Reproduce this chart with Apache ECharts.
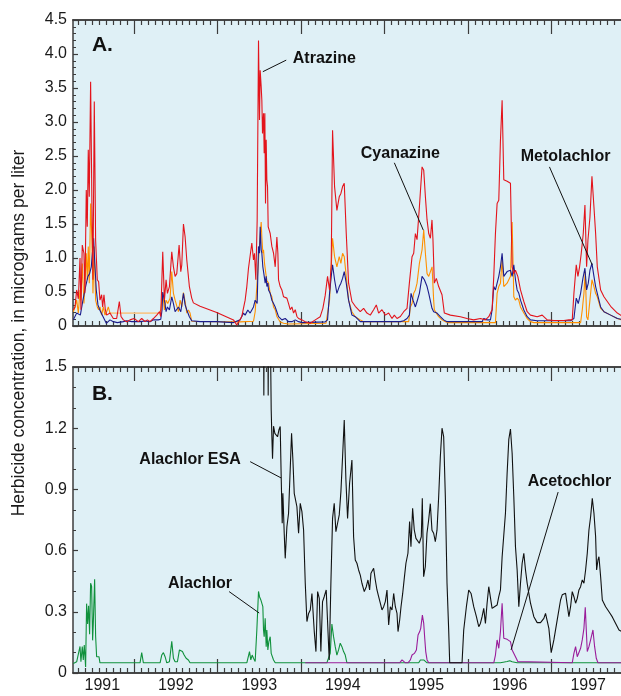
<!DOCTYPE html>
<html><head><meta charset="utf-8">
<script src="https://cdn.jsdelivr.net/npm/echarts@6/dist/echarts.min.js"></script>
<style>html,body{margin:0;padding:0;background:#fff}#c{width:621px;height:696px}</style>
</head><body><div id="c"></div>
<script>
// ---------- DATA (decimal year, micrograms per liter) ----------
const xRange = [1991.269, 1997.833];
const yearTicks = [1992, 1993, 1994, 1995, 1996, 1997];
const yearLabelPos = [1991.62, 1992.5, 1993.5, 1994.5, 1995.5, 1996.5, 1997.44];
const yTicksA = [0, 0.5, 1.0, 1.5, 2.0, 2.5, 3.0, 3.5, 4.0, 4.5];
const yTicksB = [0, 0.3, 0.6, 0.9, 1.2, 1.5];

const atrazine = [
[1991.273,0.235],[1991.293,0.28],[1991.313,0.53],[1991.333,0.4],[1991.353,1.0],[1991.364,0.24],[1991.380,1.19],[1991.400,1.07],[1991.412,0.48],[1991.428,2.0],[1991.440,1.46],[1991.452,2.59],[1991.464,1.9],[1991.480,3.59],[1991.496,1.75],[1991.508,0.68],[1991.524,3.3],[1991.540,1.26],[1991.560,0.68],[1991.576,0.65],[1991.592,0.38],[1991.612,0.46],[1991.624,0.28],[1991.640,0.46],[1991.656,0.24],[1991.672,0.16],[1991.712,0.19],[1991.752,0.11],[1991.792,0.11],[1991.824,0.36],[1991.844,0.14],[1991.872,0.09],[1991.912,0.064],[1991.952,0.09],[1992.000,0.11],[1992.052,0.064],[1992.092,0.11],[1992.132,0.064],[1992.160,0.09],[1992.192,0.064],[1992.232,0.11],[1992.272,0.16],[1992.304,0.21],[1992.320,0.14],[1992.344,1.09],[1992.364,0.38],[1992.384,0.68],[1992.400,0.48],[1992.424,0.58],[1992.452,1.09],[1992.472,0.87],[1992.492,0.73],[1992.512,0.77],[1992.540,1.19],[1992.560,0.80],[1992.572,0.90],[1992.592,1.50],[1992.612,1.31],[1992.632,0.97],[1992.663,0.58],[1992.691,0.41],[1992.711,0.34],[1992.791,0.29],[1992.991,0.20],[1993.191,0.09],[1993.231,0.015],[1993.291,0.14],[1993.331,0.38],[1993.351,0.58],[1993.371,0.85],[1993.391,0.87],[1993.411,1.22],[1993.431,0.97],[1993.443,1.07],[1993.459,0.68],[1993.475,1.56],[1993.491,4.2],[1993.503,3.03],[1993.511,3.76],[1993.523,3.52],[1993.531,3.32],[1993.539,2.83],[1993.551,3.13],[1993.559,2.54],[1993.567,3.13],[1993.575,1.8],[1993.583,2.74],[1993.591,2.15],[1993.599,2.05],[1993.607,1.46],[1993.619,1.41],[1993.631,1.36],[1993.651,1.17],[1993.671,1.07],[1993.691,0.87],[1993.711,1.31],[1993.723,1.07],[1993.731,0.68],[1993.751,0.58],[1993.771,0.53],[1993.791,0.43],[1993.811,0.43],[1993.831,0.41],[1993.851,0.33],[1993.871,0.24],[1993.891,0.28],[1993.911,0.19],[1993.931,0.24],[1993.951,0.14],[1993.971,0.11],[1994.011,0.09],[1994.051,0.064],[1994.111,0.04],[1994.171,0.09],[1994.230,0.137],[1994.262,0.26],[1994.290,0.45],[1994.318,0.73],[1994.342,0.53],[1994.362,0.9],[1994.378,2.88],[1994.402,2.05],[1994.430,1.7],[1994.458,1.9],[1994.478,1.95],[1994.498,2.05],[1994.518,2.1],[1994.542,1.36],[1994.570,0.63],[1994.610,0.36],[1994.650,0.29],[1994.710,0.21],[1994.750,0.26],[1994.790,0.19],[1994.830,0.16],[1994.870,0.24],[1994.902,0.31],[1994.930,0.19],[1994.970,0.24],[1995.010,0.16],[1995.050,0.19],[1995.090,0.11],[1995.118,0.16],[1995.150,0.11],[1995.190,0.14],[1995.230,0.21],[1995.270,0.26],[1995.298,0.63],[1995.330,1.02],[1995.350,1.07],[1995.370,1.36],[1995.390,1.27],[1995.418,1.75],[1995.450,2.34],[1995.470,2.29],[1995.490,1.9],[1995.510,1.56],[1995.530,1.36],[1995.550,1.29],[1995.569,1.56],[1995.581,1.26],[1995.597,0.63],[1995.621,0.70],[1995.649,0.58],[1995.689,0.46],[1995.717,0.19],[1995.789,0.16],[1995.909,0.137],[1995.989,0.11],[1996.069,0.09],[1996.149,0.11],[1996.209,0.09],[1996.249,0.137],[1996.289,0.24],[1996.309,0.73],[1996.329,1.36],[1996.349,1.8],[1996.369,1.85],[1996.389,2.73],[1996.409,3.32],[1996.429,2.15],[1996.469,2.13],[1996.509,2.1],[1996.529,0.87],[1996.549,0.77],[1996.569,0.82],[1996.597,0.73],[1996.629,0.53],[1996.669,0.36],[1996.709,0.21],[1996.749,0.16],[1996.829,0.137],[1996.889,0.16],[1996.949,0.09],[1997.029,0.08],[1997.149,0.08],[1997.209,0.09],[1997.249,0.09],[1997.269,0.48],[1997.297,0.9],[1997.317,0.73],[1997.337,0.87],[1997.357,1.07],[1997.381,1.36],[1997.401,1.78],[1997.421,0.87],[1997.437,1.26],[1997.461,1.60],[1997.485,2.2],[1997.509,1.75],[1997.529,1.36],[1997.549,0.87],[1997.589,0.53],[1997.629,0.43],[1997.709,0.29],[1997.789,0.19],[1997.841,0.15]
];

const cyanazine = [
[1991.273,0.21],[1991.293,0.28],[1991.313,0.38],[1991.333,0.19],[1991.353,0.53],[1991.364,0.38],[1991.380,0.92],[1991.400,0.33],[1991.412,0.63],[1991.428,1.07],[1991.440,0.68],[1991.452,1.17],[1991.464,0.63],[1991.480,1.8],[1991.496,1.26],[1991.508,0.48],[1991.524,1.17],[1991.540,0.38],[1991.560,0.28],[1991.576,0.24],[1991.592,0.28],[1991.612,0.16],[1991.632,0.28],[1991.652,0.16],[1991.672,0.21],[1991.692,0.28],[1991.712,0.19],[1992.0,null],
[1992.304,0.19],[1992.320,0.235],[1992.344,0.48],[1992.364,0.235],[1992.384,0.38],[1992.404,0.33],[1992.432,0.41],[1992.452,0.80],[1992.472,0.48],[1992.492,0.38],[1992.512,0.36],[1992.532,0.21],[1992.552,0.38],[1992.572,0.28],[1992.592,0.49],[1992.612,0.36],[1992.632,0.19],[1992.652,0.235],[1992.671,0.19],[1992.691,0.07],[1992.991,0.064],[1993.271,0.06],[1993.431,0.07],[1993.451,0.21],[1993.471,0.58],[1993.491,0.97],[1993.523,1.53],[1993.531,1.31],[1993.543,1.07],[1993.551,1.12],[1993.563,0.92],[1993.579,0.77],[1993.591,0.67],[1993.611,0.63],[1993.631,0.48],[1993.651,0.43],[1993.671,0.28],[1993.691,0.24],[1993.711,0.14],[1993.751,0.06],[1993.791,0.04],[1993.851,0.03],[1994.300,0.04],[1994.318,0.06],[1994.342,0.38],[1994.362,0.87],[1994.378,1.29],[1994.402,1.02],[1994.430,0.87],[1994.458,1.02],[1994.478,0.92],[1994.498,1.07],[1994.518,1.02],[1994.542,0.73],[1994.570,0.38],[1994.610,0.21],[1994.650,0.137],[1994.710,0.09],[1994.750,0.064],[1995.290,0.064],[1995.310,0.28],[1995.330,0.33],[1995.350,0.48],[1995.370,0.53],[1995.390,0.63],[1995.418,0.92],[1995.450,1.12],[1995.470,1.41],[1995.490,1.07],[1995.510,0.77],[1995.530,0.73],[1995.550,0.73],[1995.570,0.87],[1995.589,0.38],[1995.597,0.24],[1995.621,0.19],[1995.649,0.137],[1995.689,0.09],[1995.729,0.064],[1995.769,0.05],[1996.329,0.05],[1996.349,0.48],[1996.369,0.58],[1996.389,0.63],[1996.409,0.97],[1996.429,0.58],[1996.469,0.63],[1996.509,0.73],[1996.529,1.53],[1996.549,0.43],[1996.569,0.38],[1996.589,0.41],[1996.609,0.38],[1996.629,0.28],[1996.669,0.19],[1996.709,0.11],[1996.749,0.064],[1996.789,0.05],[1997.349,0.05],[1997.369,0.235],[1997.389,0.48],[1997.405,0.80],[1997.421,0.137],[1997.437,0.09],[1997.461,0.38],[1997.485,0.68],[1997.509,0.58],[1997.529,0.48],[1997.549,0.43],[1997.589,0.26],[1997.629,0.21],[1997.709,0.16],[1997.789,0.11],[1997.841,0.09]
];
const cyanazineGap = [[1991.712,0.19],[1992.304,0.19]];

const metolachlor = [
[1991.273,0.09],[1991.289,0.11],[1991.313,0.19],[1991.329,0.19],[1991.357,0.16],[1991.388,0.38],[1991.420,0.58],[1991.448,0.73],[1991.468,0.77],[1991.488,0.87],[1991.516,1.29],[1991.528,0.97],[1991.548,0.53],[1991.568,0.31],[1991.588,0.24],[1991.628,0.14],[1991.668,0.04],[1991.712,0.09],[1991.752,0.064],[1991.800,0.05],[1991.872,0.064],[1991.912,0.078],[1991.972,0.064],[1992.072,0.064],[1992.132,0.073],[1992.192,0.064],[1992.232,0.09],[1992.290,0.09],[1992.320,0.098],[1992.336,0.24],[1992.344,0.5],[1992.364,0.38],[1992.384,0.21],[1992.400,0.28],[1992.424,0.235],[1992.452,0.43],[1992.472,0.33],[1992.492,0.21],[1992.512,0.19],[1992.532,0.28],[1992.560,0.21],[1992.572,0.235],[1992.592,0.48],[1992.612,0.31],[1992.632,0.235],[1992.663,0.137],[1992.691,0.078],[1992.791,0.064],[1992.991,0.064],[1993.191,0.05],[1993.271,0.09],[1993.311,0.19],[1993.331,0.16],[1993.363,0.235],[1993.391,0.19],[1993.411,0.235],[1993.431,0.28],[1993.451,0.38],[1993.475,0.33],[1993.491,1.17],[1993.503,1.07],[1993.511,1.46],[1993.523,1.12],[1993.531,1.07],[1993.543,0.87],[1993.555,0.77],[1993.571,0.63],[1993.583,0.73],[1993.591,0.58],[1993.603,0.63],[1993.611,0.53],[1993.631,0.48],[1993.651,0.38],[1993.671,0.33],[1993.691,0.28],[1993.731,0.137],[1993.771,0.09],[1993.811,0.11],[1993.851,0.064],[1993.891,0.064],[1993.931,0.09],[1993.971,0.064],[1994.011,0.05],[1994.290,0.06],[1994.318,0.09],[1994.342,0.48],[1994.362,0.73],[1994.378,0.9],[1994.402,0.68],[1994.430,0.48],[1994.458,0.58],[1994.478,0.63],[1994.498,0.70],[1994.518,0.80],[1994.542,0.63],[1994.570,0.38],[1994.610,0.16],[1994.650,0.137],[1994.710,0.064],[1995.190,0.064],[1995.230,0.078],[1995.270,0.11],[1995.298,0.16],[1995.318,0.48],[1995.342,0.38],[1995.370,0.28],[1995.390,0.36],[1995.418,0.48],[1995.450,0.73],[1995.478,0.68],[1995.510,0.58],[1995.530,0.48],[1995.549,0.46],[1995.569,0.26],[1995.589,0.21],[1995.609,0.235],[1995.629,0.19],[1995.649,0.21],[1995.669,0.137],[1995.709,0.09],[1995.749,0.064],[1996.169,0.064],[1996.189,0.11],[1996.229,0.09],[1996.269,0.09],[1996.289,0.235],[1996.309,0.58],[1996.329,0.53],[1996.349,0.63],[1996.369,0.73],[1996.389,0.87],[1996.409,1.07],[1996.429,0.73],[1996.469,0.80],[1996.509,0.82],[1996.529,0.73],[1996.549,0.9],[1996.569,0.68],[1996.589,0.53],[1996.609,0.48],[1996.629,0.38],[1996.669,0.235],[1996.709,0.137],[1996.749,0.09],[1996.829,0.078],[1997.229,0.078],[1997.269,0.11],[1997.297,0.41],[1997.321,0.33],[1997.349,0.48],[1997.377,0.70],[1997.401,0.85],[1997.421,0.53],[1997.441,0.63],[1997.461,0.82],[1997.485,0.92],[1997.509,0.73],[1997.529,0.58],[1997.549,0.48],[1997.589,0.28],[1997.629,0.21],[1997.709,0.16],[1997.789,0.11],[1997.841,0.098]
];

const alachlorEsa = [
[1993.549,1.9],[1993.555,1.36],[1993.561,1.9],[1993.567,1.9],[1993.571,1.6],[1993.600,1.9],[1993.607,1.36],[1993.613,1.9],[1993.627,1.9],[1993.635,1.6],[1993.643,1.29],[1993.651,1.16],[1993.659,1.05],[1993.671,1.21],[1993.687,1.175],[1993.703,1.183],[1993.719,1.158],[1993.735,1.191],[1993.751,1.208],[1993.763,0.954],[1993.775,0.734],[1993.783,0.881],[1993.799,0.685],[1993.811,0.562],[1993.831,0.717],[1993.851,0.783],[1993.871,0.775],[1993.887,1.175],[1993.903,1.044],[1993.919,0.881],[1993.931,0.889],[1993.951,0.815],[1993.971,0.685],[1993.991,0.832],[1994.011,0.791],[1994.031,0.701],[1994.051,0.44],[1994.071,0.252],[1994.091,0.292],[1994.111,0.309],[1994.131,0.39],[1994.143,0.309],[1994.159,0.203],[1994.179,0.105],[1994.199,0.399],[1994.219,0.366],[1994.238,0.105],[1994.258,0.35],[1994.278,0.374],[1994.302,0.407],[1994.322,0.407],[1994.338,0.064],[1994.358,0.44],[1994.378,0.758],[1994.398,0.832],[1994.418,0.693],[1994.438,0.734],[1994.458,0.775],[1994.478,0.889],[1994.498,1.06],[1994.518,1.24],[1994.538,0.946],[1994.558,0.758],[1994.582,0.93],[1994.610,1.044],[1994.630,0.668],[1994.650,0.554],[1994.670,0.538],[1994.690,0.505],[1994.710,0.48],[1994.730,0.44],[1994.758,0.399],[1994.782,0.423],[1994.802,0.456],[1994.822,0.407],[1994.838,0.489],[1994.858,0.497],[1994.870,0.513],[1994.890,0.456],[1994.910,0.407],[1994.930,0.374],[1994.950,0.342],[1994.970,0.309],[1994.990,0.325],[1995.010,0.35],[1995.030,0.407],[1995.050,0.235],[1995.070,0.325],[1995.090,0.309],[1995.110,0.39],[1995.130,0.325],[1995.150,0.292],[1995.162,0.203],[1995.182,0.26],[1995.198,0.325],[1995.218,0.39],[1995.237,0.464],[1995.257,0.538],[1995.281,0.587],[1995.301,0.742],[1995.317,0.619],[1995.337,0.807],[1995.357,0.701],[1995.377,0.66],[1995.397,0.652],[1995.417,0.636],[1995.441,0.668],[1995.453,0.856],[1995.469,0.472],[1995.489,0.521],[1995.509,0.685],[1995.529,0.75],[1995.549,0.83],[1995.569,0.70],[1995.589,0.685],[1995.609,0.644],[1995.629,0.70],[1995.649,0.864],[1995.669,1.06],[1995.689,1.2],[1995.709,1.158],[1995.729,0.864],[1995.749,0.44],[1995.769,0.211],[1995.781,0.05],[1995.929,0.05],[1995.949,0.211],[1995.981,0.325],[1996.009,0.407],[1996.037,0.39],[1996.069,0.325],[1996.101,0.276],[1996.129,0.227],[1996.149,0.243],[1996.169,0.276],[1996.189,0.317],[1996.209,0.243],[1996.229,0.342],[1996.249,0.423],[1996.269,0.423],[1996.289,0.317],[1996.317,0.325],[1996.349,0.333],[1996.369,0.374],[1996.389,0.407],[1996.409,0.569],[1996.429,0.578],[1996.449,0.783],[1996.469,0.979],[1996.489,1.145],[1996.509,1.196],[1996.529,1.077],[1996.549,0.864],[1996.569,0.619],[1996.589,0.505],[1996.609,0.325],[1996.629,0.44],[1996.649,0.538],[1996.669,0.587],[1996.689,0.505],[1996.709,0.44],[1996.729,0.39],[1996.749,0.342],[1996.769,0.309],[1996.789,0.276],[1996.829,0.247],[1996.869,0.247],[1996.909,0.268],[1996.929,0.292],[1996.949,0.296],[1996.969,0.219],[1996.997,0.10],[1997.029,0.162],[1997.069,0.26],[1997.109,0.358],[1997.129,0.383],[1997.169,0.391],[1997.189,0.333],[1997.209,0.276],[1997.229,0.325],[1997.249,0.399],[1997.269,0.374],[1997.289,0.342],[1997.309,0.366],[1997.329,0.407],[1997.349,0.423],[1997.369,0.456],[1997.389,0.44],[1997.409,0.505],[1997.429,0.587],[1997.449,0.701],[1997.469,0.766],[1997.489,0.856],[1997.509,0.783],[1997.529,0.668],[1997.541,0.505],[1997.557,0.554],[1997.569,0.57],[1997.589,0.472],[1997.609,0.358],[1997.649,0.325],[1997.689,0.30],[1997.729,0.275],[1997.769,0.243],[1997.809,0.211],[1997.841,0.203]
];

const alachlor = [
[1991.273,0.047],[1991.313,0.055],[1991.333,0.047],[1991.353,0.13],[1991.364,0.055],[1991.380,0.13],[1991.392,0.064],[1991.404,0.137],[1991.420,0.03],[1991.432,0.34],[1991.444,0.24],[1991.456,0.33],[1991.468,0.19],[1991.480,0.44],[1991.492,0.425],[1991.504,0.16],[1991.512,0.24],[1991.528,0.46],[1991.540,0.18],[1991.552,0.08],[1991.568,0.072],[1991.580,0.08],[1991.592,0.05],[1992.072,0.05],[1992.092,0.1],[1992.112,0.05],[1992.312,0.05],[1992.332,0.088],[1992.352,0.1],[1992.372,0.08],[1992.392,0.05],[1992.424,0.055],[1992.452,0.155],[1992.472,0.072],[1992.492,0.055],[1992.520,0.055],[1992.544,0.113],[1992.560,0.105],[1992.580,0.105],[1992.600,0.088],[1992.624,0.072],[1992.651,0.064],[1992.671,0.05],[1993.351,0.05],[1993.383,0.105],[1993.399,0.064],[1993.415,0.088],[1993.431,0.072],[1993.451,0.056],[1993.471,0.211],[1993.491,0.40],[1993.503,0.374],[1993.519,0.358],[1993.531,0.366],[1993.543,0.325],[1993.551,0.211],[1993.559,0.178],[1993.571,0.268],[1993.583,0.129],[1993.591,0.211],[1993.603,0.113],[1993.615,0.154],[1993.631,0.178],[1993.643,0.096],[1993.655,0.105],[1993.671,0.064],[1993.691,0.05],[1994.310,0.05],[1994.330,0.056],[1994.350,0.096],[1994.370,0.24],[1994.390,0.178],[1994.410,0.129],[1994.430,0.088],[1994.450,0.113],[1994.470,0.146],[1994.490,0.129],[1994.510,0.105],[1994.530,0.088],[1994.550,0.05],[1995.410,0.05],[1995.430,0.064],[1995.450,0.072],[1995.470,0.064],[1995.510,0.05],[1996.389,0.05],[1996.469,0.056],[1996.501,0.06],[1996.529,0.055],[1996.589,0.05],[1997.841,0.05]
];

const acetochlor = [
[1994.051,0.05],[1995.182,0.05],[1995.210,0.064],[1995.230,0.072],[1995.250,0.05],[1995.282,0.05],[1995.310,0.064],[1995.330,0.088],[1995.358,0.096],[1995.382,0.113],[1995.402,0.186],[1995.422,0.203],[1995.434,0.219],[1995.454,0.284],[1995.470,0.243],[1995.482,0.17],[1995.494,0.105],[1995.510,0.064],[1995.530,0.05],[1996.309,0.05],[1996.329,0.088],[1996.349,0.162],[1996.369,0.121],[1996.389,0.203],[1996.409,0.342],[1996.429,0.17],[1996.469,0.165],[1996.509,0.154],[1996.529,0.113],[1996.569,0.08],[1996.597,0.056],[1996.620,0.05],[1997.249,0.05],[1997.269,0.096],[1997.289,0.129],[1997.309,0.08],[1997.329,0.088],[1997.349,0.121],[1997.369,0.162],[1997.389,0.219],[1997.405,0.322],[1997.429,0.105],[1997.449,0.129],[1997.469,0.162],[1997.497,0.211],[1997.517,0.129],[1997.537,0.072],[1997.557,0.05],[1997.841,0.05]
];

// annotations: [panel, label, textX, textY, lineFrom, lineTo]
const annotations = [
  [0, 'Atrazine', 1994.28, 3.93, [1993.823, 3.91], [1993.543, 3.74]],
  [0, 'Cyanazine', 1995.19, 2.53, [1995.118, 2.40], [1995.465, 1.41]],
  [0, 'Metolachlor', 1997.17, 2.49, [1996.976, 2.34], [1997.488, 0.90]],
  [1, 'Alachlor ESA', 1992.671, 1.044, [1993.391, 1.036], [1993.763, 0.956]],
  [1, 'Alachlor', 1992.791, 0.439, [1993.139, 0.399], [1993.499, 0.294]],
  [1, 'Acetochlor', 1997.216, 0.939, [1997.080, 0.887], [1996.516, 0.113]]
];
const panelLetters = [[0, 'A.', 1991.496, 4.125], [1, 'B.', 1991.496, 1.365]];

// ---------- CHART ----------
const FONT = 'Liberation Sans';
const monthTicks = [];
for (let y = 1991; y <= 1997; y++) for (let m = 1; m < 12; m++) monthTicks.push(y + m / 12);
const AX = '#3c3c3c';

function xAx(grid, pos, ticks, len, labels) {
  const a = {
    type: 'value', gridIndex: grid, position: pos, min: xRange[0], max: xRange[1],
    axisLine: { show: true, lineStyle: { color: AX, width: 1.5 } },
    axisTick: { show: true, inside: true, length: len, customValues: ticks, lineStyle: { color: AX, width: 1.2 } },
    axisLabel: { show: false },
    splitLine: { show: false }
  };
  if (labels) {
    a.axisLabel = { show: true, customValues: labels, margin: 5, color: '#1a1a1a', fontFamily: FONT, fontSize: 16,
      formatter: v => String(Math.floor(v)) };
  }
  return a;
}
function yAx(grid, max, interval, minorSplit) {
  return {
    type: 'value', gridIndex: grid, min: 0, max: max, interval: interval,
    axisLine: { show: true, lineStyle: { color: AX, width: 1.5 } },
    axisTick: { show: true, inside: true, length: 5, lineStyle: { color: AX, width: 1.2 } },
    minorTick: { show: true, splitNumber: minorSplit, length: 3, lineStyle: { color: AX, width: 1 } },
    axisLabel: { margin: 6, color: '#1a1a1a', fontFamily: FONT, fontSize: 16,
      formatter: v => v === 0 ? '0' : v.toFixed(1) },
    splitLine: { show: false }
  };
}
function line(data, color, xi, yi, width) {
  return { type: 'line', data: data, xAxisIndex: xi, yAxisIndex: yi, showSymbol: false, symbol: 'none',
    clip: true, animation: false, lineStyle: { color: color, width: width || 1.1 }, z: 3 };
}

const option = {
  animation: false,
  backgroundColor: '#ffffff',
  grid: [
    { left: 73, top: 20, width: 548, height: 306, show: true, backgroundColor: '#dff0f6', borderWidth: 0 },
    { left: 73, top: 367, width: 548, height: 306, show: true, backgroundColor: '#dff0f6', borderWidth: 0 }
  ],
  xAxis: [
    xAx(0, 'bottom', yearTicks, 14), xAx(0, 'bottom', monthTicks, 5),
    xAx(0, 'top', yearTicks, 14), xAx(0, 'top', monthTicks, 5),
    xAx(1, 'bottom', yearTicks, 14, yearLabelPos), xAx(1, 'bottom', monthTicks, 5),
    xAx(1, 'top', yearTicks, 14), xAx(1, 'top', monthTicks, 5)
  ],
  yAxis: [ yAx(0, yTicksA[yTicksA.length - 1], 0.5, 5), yAx(1, yTicksB[yTicksB.length - 1], 0.3, 3) ],
  series: [
    line(cyanazineGap, '#f6c88e', 0, 0, 1.6),
    line(cyanazine, '#ff9000', 0, 0),
    line(metolachlor, '#1c1c8c', 0, 0),
    line(atrazine, '#e3141c', 0, 0),
    line(alachlor, '#10913c', 4, 1),
    line(acetochlor, '#9a1c9a', 4, 1),
    line(alachlorEsa, '#111111', 4, 1)
  ]
};

const chart = echarts.init(document.getElementById('c'), null, { renderer: 'canvas' });
chart.setOption(option);

const panelSeries = [3, 6];
const graphic = [];
annotations.forEach(a => {
  const si = panelSeries[a[0]];
  const t = chart.convertToPixel({ seriesIndex: si }, [a[2], a[3]]);
  const p1 = chart.convertToPixel({ seriesIndex: si }, a[4]);
  const p2 = chart.convertToPixel({ seriesIndex: si }, a[5]);
  graphic.push({ type: 'line', shape: { x1: p1[0], y1: p1[1], x2: p2[0], y2: p2[1] },
    style: { stroke: '#111', lineWidth: 1 }, z: 10 });
  graphic.push({ type: 'text', x: t[0], y: t[1], z: 10,
    style: { text: a[1], fill: '#111', font: 'bold 16px "' + FONT + '"', align: 'center', verticalAlign: 'middle' } });
});
panelLetters.forEach(a => {
  const t = chart.convertToPixel({ seriesIndex: panelSeries[a[0]] }, [a[2], a[3]]);
  graphic.push({ type: 'text', x: t[0], y: t[1], z: 10,
    style: { text: a[1], fill: '#111', font: 'bold 21px "' + FONT + '"', align: 'left', verticalAlign: 'middle' } });
});
graphic.push({ type: 'text', x: 19, y: 333, rotation: Math.PI / 2, z: 10,
  style: { text: 'Herbicide concentration, in micrograms per liter', fill: '#1a1a1a',
    font: '17.5px "' + FONT + '"', align: 'center', verticalAlign: 'middle' } });
chart.setOption({ graphic: graphic });
</script></body></html>
